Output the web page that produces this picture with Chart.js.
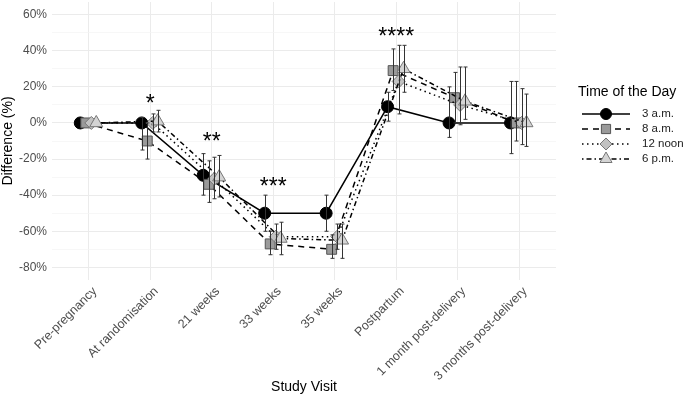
<!DOCTYPE html>
<html>
<head>
<meta charset="utf-8">
<script src="https://cdn.jsdelivr.net/npm/chart.js@4.4.0/dist/chart.umd.min.js"></script>
<style>
  html, body { margin: 0; padding: 0; background: #fff; }
</style>
</head>
<body>
<canvas id="chart-area" width="685" height="400"></canvas>
<script>
// categories on the x axis
var visits = ['Pre-pregnancy', 'At randomisation', '21 weeks', '33 weeks', '35 weeks',
              'Postpartum', '1 month post-delivery', '3 months post-delivery'];
var times = ['3 a.m.', '8 a.m.', '12 noon', '6 p.m.'];

// mean difference (%) and error bar ends
var am3      = [0, 0, -29, -50, -50, 9, 0, 0];
var am3Low   = [0, -15, -40, -60, -60, 1, -8, -17];
var am3High  = [0, 3, -17, -40, -40, 17, 20, 23];

var am8      = [0, -10, -34, -67, -70, 29, 14, 0];
var am8Low   = [0, -20, -44, -73, -75, 18, 0, -10];
var am8High  = [0, 0, -21, -60, -62, 41, 28, 23];

var noon     = [0, 0, -31, -63, -63, 23, 10, 0];
var noonLow  = [0, -5, -42, -70, -70, 5, -1, -12];
var noonHigh = [0, 5, -19, -56, -56, 43, 31, 19];

var pm6      = [0, 1, -30, -64, -65, 30, 12, 0];
var pm6Low   = [0, -5, -41, -73, -75, 17, 2, -13];
var pm6High  = [0, 7, -18, -55, -56, 43, 31, 16];

// significance stars and the height they sit at
var stars = ['', '*', '**', '***', '', '****', '', ''];
var starY = [null, 14, -7, -32, null, 51, null, null];

var yTicks = [-80, -70, -60, -50, -40, -30, -20, -10, 0, 10, 20, 30, 40, 50, 60];

// dodge offsets (category units) and marker styles
var dodge = [-0.14, -0.05, 0.04, 0.12];
var looks = [
  { pointStyle: 'circle',   radius: 6,   fill: '#000000', border: '#000000', dash: [] },
  { pointStyle: 'rect',     radius: 7,   fill: '#9a9a9a', border: '#555555', dash: [6, 5] },
  { pointStyle: 'rectRot',  radius: 6.5, fill: '#c2c2c2', border: '#777777', dash: [1.5, 3.5] },
  { pointStyle: 'triangle', radius: 7.5, fill: '#d4d4d4', border: '#777777', dash: [1.5, 3, 5, 3] }
];

var series = [
  { values: am3,  low: am3Low,  high: am3High },
  { values: am8,  low: am8Low,  high: am8High },
  { values: noon, low: noonLow, high: noonHigh },
  { values: pm6,  low: pm6Low,  high: pm6High }
];

var FONT = "'Liberation Sans', Arial, sans-serif";

var datasets = series.map(function (s, si) {
  var lk = looks[si];
  return {
    label: times[si],
    data: s.values.map(function (v, i) { return { x: i + dodge[si], y: v }; }),
    borderColor: '#000000',
    borderWidth: 1.5,
    borderDash: lk.dash,
    pointStyle: lk.pointStyle,
    pointRadius: lk.radius,
    pointBackgroundColor: lk.fill,
    pointBorderColor: lk.border,
    pointBorderWidth: 1,
    order: 3 - si,
    tension: 0
  };
});

var extras = {
  id: 'extras',
  afterDatasetsDraw: function (chart) {
    var ctx = chart.ctx, xs = chart.scales.x, ys = chart.scales.y;
    ctx.save();
    ctx.strokeStyle = '#333333';
    ctx.lineWidth = 1;
    ctx.setLineDash([]);
    series.forEach(function (s, si) {
      s.values.forEach(function (v, i) {
        var lo = s.low[i], hi = s.high[i];
        if (lo === hi) return;
        var x = Math.round(xs.getPixelForValue(i + dodge[si])) + 0.5;
        var y1 = ys.getPixelForValue(lo), y2 = ys.getPixelForValue(hi);
        ctx.beginPath();
        ctx.moveTo(x, y1); ctx.lineTo(x, y2);
        ctx.moveTo(x - 2, y1); ctx.lineTo(x + 2, y1);
        ctx.moveTo(x - 2, y2); ctx.lineTo(x + 2, y2);
        ctx.stroke();
      });
    });
    // stars
    ctx.fillStyle = '#000000';
    ctx.font = '23px ' + FONT;
    ctx.textAlign = 'center';
    ctx.textBaseline = 'alphabetic';
    stars.forEach(function (st, i) {
      if (!st) return;
      ctx.fillText(st, xs.getPixelForValue(i), ys.getPixelForValue(starY[i]) + 13);
    });
    ctx.restore();
  },
  afterDraw: function (chart) {
    var ctx = chart.ctx;
    ctx.save();
    ctx.fillStyle = '#000000';
    ctx.font = '14px ' + FONT;
    ctx.textAlign = 'left';
    ctx.textBaseline = 'middle';
    ctx.fillText('Time of the Day', 578, 92);
    times.forEach(function (t, si) {
      var lk = looks[si];
      var y = 114 + si * 15;
      ctx.strokeStyle = '#000000';
      ctx.lineWidth = 1.5;
      ctx.setLineDash(lk.dash);
      ctx.beginPath();
      ctx.moveTo(582, y); ctx.lineTo(630, y);
      ctx.stroke();
      ctx.setLineDash([]);
      ctx.fillStyle = lk.fill;
      ctx.strokeStyle = lk.border;
      ctx.lineWidth = 1;
      Chart.helpers.drawPoint(ctx, { pointStyle: lk.pointStyle, radius: lk.radius - 0.5, rotation: 0, borderWidth: 1 }, 606, y);
      ctx.fillStyle = '#222222';
      ctx.font = '11.5px ' + FONT;
      ctx.fillText(t, 642, y);
    });
    ctx.restore();
  }
};

var config = {
  type: 'line',
  data: { datasets: datasets },
  options: {
    responsive: false,
    animation: false,
    devicePixelRatio: 1,
    layout: { autoPadding: false, padding: { top: 2, right: 129, left: 0, bottom: 0 } },
    plugins: { legend: { display: false }, tooltip: { enabled: false } },
    scales: {
      x: {
        type: 'linear',
        min: -0.6,
        max: 7.6,
        afterBuildTicks: function (scale) {
          scale.ticks = visits.map(function (v, i) { return { value: i }; });
        },
        afterFit: function (scale) {
          scale.height = 120;
          scale.paddingLeft = 0;
          scale.paddingRight = 0;
        },
        ticks: {
          autoSkip: false,
          minRotation: 45,
          maxRotation: 45,
          padding: 4,
          labelOffset: 6,
          color: '#4D4D4D',
          font: { family: FONT, size: 12.5 },
          callback: function (v) { return visits[v]; }
        },
        grid: { color: '#EBEBEB', lineWidth: 1, drawTicks: false },
        border: { display: false },
        title: {
          display: true, text: 'Study Visit', color: '#000000',
          font: { family: FONT, size: 14 }, padding: { top: 0, bottom: 4 }
        }
      },
      y: {
        min: -87,
        max: 67,
        afterBuildTicks: function (scale) {
          scale.ticks = yTicks.map(function (v) { return { value: v }; });
        },
        afterFit: function (scale) {
          scale.width = 52;
          scale.paddingTop = 0;
          scale.paddingBottom = 0;
        },
        ticks: {
          padding: 5,
          color: '#4D4D4D',
          font: { family: FONT, size: 12 },
          callback: function (v) { return v % 20 === 0 ? v + '%' : ''; }
        },
        grid: {
          drawTicks: false,
          color: function (c) { return c.tick && c.tick.value % 20 === 0 ? '#EBEBEB' : '#F3F3F3'; },
          lineWidth: function (c) { return c.tick && c.tick.value % 20 === 0 ? 1 : 0.7; }
        },
        border: { display: false },
        title: {
          display: true, text: 'Difference (%)', color: '#000000',
          font: { family: FONT, size: 14 }, padding: { top: 0, bottom: 2 }
        }
      }
    }
  },
  plugins: [extras]
};

var ctx = document.getElementById('chart-area').getContext('2d');
window.myChart = new Chart(ctx, config);
</script>
</body>
</html>
